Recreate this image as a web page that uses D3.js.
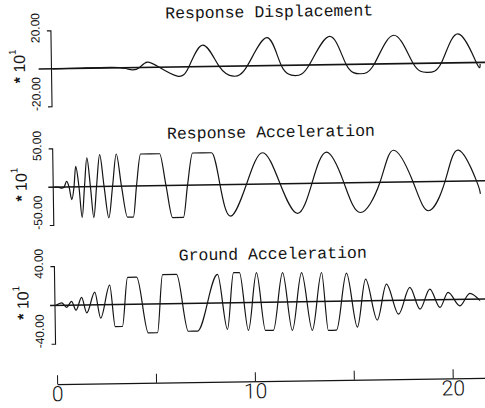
<!DOCTYPE html>
<html>
<head>
<meta charset="utf-8">
<script src="https://cdn.jsdelivr.net/npm/d3@7"></script>
<style>
  html, body { margin: 0; padding: 0; background: #fff; }
  svg { display: block; }
</style>
</head>
<body>
<svg id="chart" width="485" height="408"></svg>
<script>
// ---- time axis (s) ----
const timeDomain = [0, 22];
const timeTicks = [0, 5, 10, 15, 20];

// ---- Response Displacement (x10^1) ----
const dispTime  = [0, 1.5, 3.0, 3.7, 4.05, 4.4, 4.79, 5.4, 6.31, 6.9, 7.62, 8.43, 9.14, 9.85, 10.86, 11.57, 12.27, 12.98, 14.04, 14.85, 15.56, 16.27, 17.28, 18.24, 18.95, 19.66, 20.52, 21.43, 21.62];
const dispValue = [0, 0.2, 0.3, -0.4, -1.2, 0, 2.8, 0, -4.8, 0, 11.3, 0, -5.3, 0, 14.7, 0, -5.5, 0, 14.9, 0, -5.0, 0, 15.0, 0, -4.8, 0, 15.2, 0, -0.8];

// ---- Response Acceleration (x10^1) ----
const raccTime  = [0, 0.19, 0.38, 0.50, 0.63, 0.75, 0.88, 1.00, 1.10, 1.25, 1.39, 1.53, 1.67, 1.83, 1.98, 2.14, 2.32, 2.52, 2.74, 2.95, 3.16, 3.40, 3.68, 3.98, 4.16, 4.39, 5.35, 5.65, 5.96, 6.51, 6.74, 7.02, 7.98, 8.38, 8.89, 9.72, 10.56, 11.42, 12.28, 13.03, 13.79, 14.65, 15.46, 16.47, 17.18, 18.14, 18.90, 19.76, 20.46, 21.35, 21.53];
const raccValue = [0, 0, -1.5, 0, 7.3, 0, -16.6, 0, 26.6, 0, -40, 0, 37.5, 0, -40.5, 0, 41.5, 0, -41, 0, 42, 0, -40.5, -40.5, 0, 41.5, 41.5, 0, -42, -42, 0, 41.8, 41.8, 0, -41.3, 0, 40.8, 0, -39, 0, 40.4, 0, -39, 0, 41.5, 0, -38, 0, 40.4, 0, -17];

// ---- Ground Acceleration (x10^1) ----
const gaccTime  = [0, 0.29, 0.54, 0.79, 1.01, 1.30, 1.55, 1.97, 2.25, 2.73, 2.98, 3.34, 3.64, 4.10, 4.65, 5.11, 5.41, 6.12, 6.67, 7.13, 8.19, 8.65, 9.00, 9.30, 9.71, 10.16, 10.57, 10.97, 11.48, 11.93, 12.44, 12.94, 13.45, 13.75, 14.16, 14.71, 15.22, 15.67, 16.23, 16.72, 17.31, 17.90, 18.40, 18.91, 19.41, 19.83, 20.42, 20.93, 21.44];
const gaccValue = [0, 2.4, -2.2, 3.9, -5.3, 7.9, -8.2, 13.1, -13.8, 20, -22.8, -22.8, 27.8, 27.8, -29.8, -29.8, 30.1, 30.1, -28.7, -28.7, 29.4, -27.4, 31, 31, -28.7, 30.6, -29, -29, 30.3, -29.3, 30, -29.6, 29.8, -29.9, -29.9, 28.8, -27.1, 22.3, -20, 16.8, -14.3, 13.1, -9.5, 11, -8, 7.4, -6.6, 6.1, -1.6];

// ---- panel titles and y ranges ----
const panelTitles = ["Response Displacement", "Response Acceleration", "Ground Acceleration"];
const panelLimits = [20, 50, 40];
const panelTickLabels = [["-20.00", "20.00"], ["-50.00", "50.00"], ["-40.00", "40.00"]];

// ---- layout ----
const ink = "#141414";
const svg = d3.select("#chart");
const root = svg.append("g").attr("transform", "rotate(-0.85, 242, 204)");

const x = d3.scaleLinear().domain(timeDomain).range([54.5, 54.5 + 22 * 19.78]);

const panelBands = [[104, 28], [222.7, 146], [341.4, 263.8]];
const panelTitleY = [17.4, 137.7, 259.5];
const panelZeroStart = [-0.7, -0.3, -0.3];
// clipped (flat-topped) stretches are traced with a monotone curve,
// the freely swinging part after this time with a natural spline
const panelSmoothFrom = [0, 8.38, Infinity];

const series = [
  dispTime.map((t, i) => [t, dispValue[i]]),
  raccTime.map((t, i) => [t, raccValue[i]]),
  gaccTime.map((t, i) => [t, gaccValue[i]])
];

panelTitles.forEach((title, p) => {
  const lim = panelLimits[p];
  const y = d3.scaleLinear().domain([-lim, lim]).range(panelBands[p]);
  const g = root.append("g");

  // title
  g.append("text")
    .attr("x", 272).attr("y", panelTitleY[p])
    .attr("text-anchor", "middle")
    .attr("font-family", "'Liberation Mono', 'DejaVu Sans Mono', monospace")
    .attr("font-size", 16.5)
    .attr("fill", ink)
    .text(title);

  // left axis bracket
  const ax = x(0) - 1;
  g.append("path")
    .attr("d", `M${ax - 4},${y(lim)}H${ax}V${y(-lim)}H${ax - 4}`)
    .attr("fill", "none").attr("stroke", ink).attr("stroke-width", 1.1);

  // tick labels, rotated
  const labs = panelTickLabels[p];
  [[-lim, labs[0], 4], [lim, labs[1], 12]].forEach(([v, s, off]) => {
    g.append("text")
      .attr("transform", `translate(42,${y(v) + off}) rotate(-90)`)
      .attr("font-family", "'Liberation Sans', Arial, sans-serif")
      .attr("font-size", 12)
      .attr("fill", ink)
      .text(s);
  });

  // exponent label
  const ex = g.append("text")
    .attr("transform", `translate(27,${y(0) - 3}) rotate(-90)`)
    .attr("text-anchor", "middle")
    .attr("font-family", "'Liberation Sans', Arial, sans-serif")
    .attr("font-size", 16)
    .attr("fill", ink);
  ex.append("tspan").attr("font-weight", "bold").text("* ");
  ex.append("tspan").text("10");
  ex.append("tspan").attr("dy", -9).attr("font-size", 10).text("1");

  // zero line
  g.append("line")
    .attr("x1", x(panelZeroStart[p])).attr("x2", x(timeDomain[1]))
    .attr("y1", y(0)).attr("y2", y(0))
    .attr("stroke", ink).attr("stroke-width", 1.6);

  // signal
  const pts = series[p];
  const split = panelSmoothFrom[p];
  const clipped = pts.filter(d => d[0] <= split);
  const free = pts.filter(d => d[0] >= split);
  const mono = d3.line().x(d => x(d[0])).y(d => y(d[1])).curve(d3.curveMonotoneX);
  const smooth = d3.line().x(d => x(d[0])).y(d => y(d[1])).curve(d3.curveNatural);
  [[clipped, mono], [free, smooth]].forEach(([seg, gen]) => {
    if (seg.length < 2) return;
    g.append("path")
      .datum(seg)
      .attr("d", gen)
      .attr("fill", "none")
      .attr("stroke", ink)
      .attr("stroke-width", 1.2)
      .attr("stroke-linejoin", "round");
  });
});

// ---- time axis ----
const xAxis = d3.axisBottom(x)
  .tickValues(timeTicks)
  .tickFormat(d => (d % 10 === 0 ? String(d) : ""))
  .tickSizeInner(-9)
  .tickSizeOuter(0)
  .tickPadding(2);

const axG = root.append("g")
  .attr("transform", "translate(0,381.4)")
  .call(xAxis);
axG.select(".domain").attr("stroke", ink).attr("stroke-width", 1.2);
axG.selectAll(".tick line").attr("stroke", ink).attr("stroke-width", 1);
axG.selectAll(".tick text")
  .attr("font-family", "Roboto, 'Liberation Sans', sans-serif")
  .attr("font-weight", 300)
  .attr("font-size", 21)
  .attr("fill", ink)
  .attr("dy", "0.72em");
</script>
</body>
</html>
